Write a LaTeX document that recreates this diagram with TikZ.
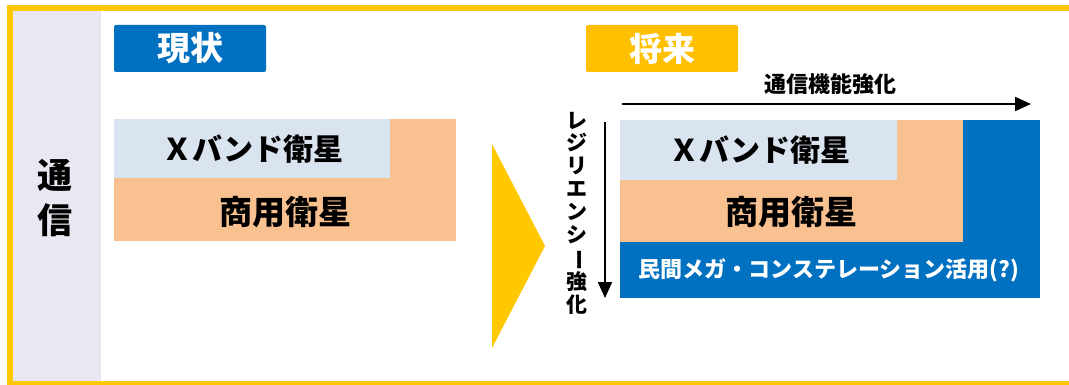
\documentclass[tikz,border=0pt]{standalone}
\usepackage{fontspec}
\setmainfont{Noto Sans CJK JP}
\usetikzlibrary{arrows.meta}
\definecolor{frameyellow}{HTML}{FFC800}
\definecolor{tagyellow}{HTML}{FFC000}
\definecolor{mblue}{HTML}{0070C0}
\definecolor{lblue}{HTML}{DAE3F0}
\definecolor{morange}{HTML}{F9C18F}
\definecolor{lav}{HTML}{EAE6F2}
\tikzset{
  box/.style={anchor=north west, inner sep=0pt, outer sep=0pt, draw=none},
  tag/.style={inner sep=0pt, rounded corners=2pt, text=white, font=\bfseries\fontsize{33}{36}\selectfont},
  big/.style={inner sep=0pt, font=\bfseries\fontsize{30}{34}\selectfont},
  mid/.style={inner sep=0pt, font=\bfseries\fontsize{22}{24}\selectfont},
  arr/.style={line width=2pt, -{Triangle[length=16pt,width=14pt]}},
}
\begin{document}
\begin{tikzpicture}[x=1pt,y=-1pt]
\useasboundingbox (0,0) rectangle (1069,385);
% frame and side panel
\fill[lav] (13,11.5) rectangle (101,381);
\draw[frameyellow, line width=6pt] (10,8.5) rectangle (1085,384);
\node[big, align=center, font=\bfseries\fontsize{35}{45}\selectfont] (tsushin) at (55,198) {通\\信};
% tags
\node[tag, fill=mblue, minimum width=152pt, minimum height=47pt] (genjo) at (190,48.5) {現状};
\node[tag, fill=tagyellow, minimum width=152pt, minimum height=47pt] (shorai) at (662,48.5) {将来};
% left boxes
\node[box, fill=morange, minimum width=342pt, minimum height=122pt] (lorange) at (114,119) {};
\node[box, fill=lblue, minimum width=276pt, minimum height=59pt] (lblue) at (114,119) {};
\node[big] (lx) at (253,149) {Ｘバンド衛星};
\node[big, font=\bfseries\fontsize{33}{36}\selectfont] (lc) at (285,212) {商用衛星};
% chevron
\fill[frameyellow] (492,144) -- (545,246) -- (492,348) -- cycle;
% right boxes
\node[box, fill=mblue, minimum width=420pt, minimum height=178pt] (rblue) at (620,120) {};
\node[box, fill=morange, minimum width=343pt, minimum height=122pt] (rorange) at (620,120) {};
\node[box, fill=lblue, minimum width=277pt, minimum height=60pt] (rlblue) at (620,120) {};
\node[big] (rx) at (760,150) {Ｘバンド衛星};
\node[big, font=\bfseries\fontsize{33}{36}\selectfont] (rc) at (791,212) {商用衛星};
\node[inner sep=0pt, text=white, font=\bfseries\fontsize{22}{26}\selectfont] (rm) at (829,270) {民間メガ・コンステレーション活用(?)};
% arrows
\coordinate (hs) at (622,104);
\coordinate (he) at (1031,104);
\draw[arr] (hs) -- (he);
\node[mid] (hl) at (830,84) {通信機能強化};
\coordinate (vs) at (605,122);
\coordinate (ve) at (605,298);
\draw[arr] (vs) -- (ve);
\node[mid, align=center, font=\bfseries\fontsize{21}{22.8}\selectfont] (vl) at (577,213) {レ\\ジ\\リ\\エ\\ン\\シ\\\rotatebox[origin=c]{-90}{ー}\\強\\化};
\end{tikzpicture}
\end{document}
